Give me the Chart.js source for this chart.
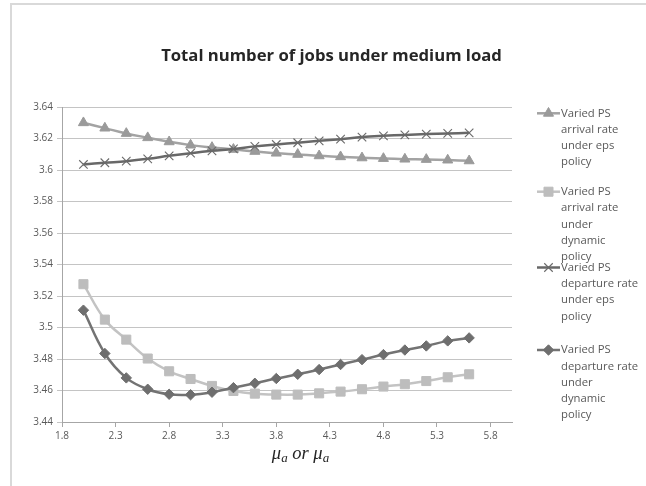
<!DOCTYPE html>
<html><head><meta charset="utf-8">
<script src="https://cdn.jsdelivr.net/npm/chart.js@4.4.0/dist/chart.umd.min.js"></script>
<style>html,body{margin:0;padding:0;background:#fff;} #wrap{width:646px;height:486px;position:relative;}</style>
</head><body><div id="wrap"><canvas id="c" width="646" height="486"></canvas></div>
<script>
const chartTitle = 'Total number of jobs under medium load';
const xValues = [2.0,2.2,2.4,2.6,2.8,3.0,3.2,3.4,3.6,3.8,4.0,4.2,4.4,4.6,4.8,5.0,5.2,5.4,5.6];
const arrivalEps = [3.6300,3.6266,3.6232,3.6205,3.6179,3.6158,3.6143,3.6131,3.6118,3.6107,3.6099,3.6090,3.6084,3.6077,3.6073,3.6069,3.6067,3.6063,3.6058];
const arrivalDynamic = [3.5275,3.5050,3.4923,3.4803,3.4722,3.4673,3.4629,3.4597,3.4580,3.4574,3.4574,3.4582,3.4593,3.4608,3.4625,3.4640,3.4660,3.4684,3.4703];
const departureEps = [3.6035,3.6046,3.6056,3.6071,3.6090,3.6107,3.6122,3.6134,3.6150,3.6162,3.6173,3.6185,3.6196,3.6209,3.6217,3.6223,3.6228,3.6232,3.6236];
const departureDynamic = [3.5110,3.4835,3.4680,3.4608,3.4576,3.4573,3.4589,3.4618,3.4646,3.4676,3.4703,3.4733,3.4765,3.4796,3.4828,3.4857,3.4883,3.4915,3.4934];
const seriesLabels = [
  'Varied PS arrival rate under eps policy',
  'Varied PS arrival rate under dynamic policy',
  'Varied PS departure rate under eps policy',
  'Varied PS departure rate under dynamic policy'
];
const legendLines = [
  ['Varied PS','arrival rate','under eps','policy'],
  ['Varied PS','arrival rate','under','dynamic','policy'],
  ['Varied PS','departure rate','under eps','policy'],
  ['Varied PS','departure rate','under','dynamic','policy']
];
const xTicks = [1.8,2.3,2.8,3.3,3.8,4.3,4.8,5.3,5.8];
const yTicks = [3.44,3.46,3.48,3.5,3.52,3.54,3.56,3.58,3.6,3.62,3.64];

const styles = [
  {line:'#a3a3a3', fill:'#9a9a9a', border:'#9a9a9a', style:'triangle', r:5.8, bw:1},
  {line:'#c3c3c3', fill:'#bdbdbd', border:'#bdbdbd', style:'rect', r:6.4, bw:1},
  {line:'#686868', fill:'rgba(0,0,0,0)', border:'#6a6a6a', style:'crossRot', r:6, bw:1.1},
  {line:'#737373', fill:'#6e6e6e', border:'#6e6e6e', style:'rectRot', r:5.2, bw:1}
];
const seriesData = [arrivalEps, arrivalDynamic, departureEps, departureDynamic];

const datasets = seriesData.map((arr, i) => ({
  label: seriesLabels[i],
  data: arr.map((y, k) => ({x: xValues[k], y: y})),
  borderColor: styles[i].line,
  backgroundColor: styles[i].fill,
  borderWidth: 2.5,
  tension: 0.4,
  pointStyle: styles[i].style,
  pointRadius: styles[i].r,
  pointBackgroundColor: styles[i].fill,
  pointBorderColor: styles[i].border,
  pointBorderWidth: styles[i].bw,
  order: 4 - i,
  clip: false
}));

const decor = {
  id: 'decor',
  beforeDraw(chart) {
    const ctx = chart.ctx;
    ctx.save();
    ctx.fillStyle = '#fff';
    ctx.fillRect(0, 0, chart.width, chart.height);
    ctx.strokeStyle = '#d9d9d9';
    ctx.lineWidth = 2;
    ctx.beginPath();
    ctx.moveTo(11, 486); ctx.lineTo(11, 4); ctx.lineTo(646, 4);
    ctx.stroke();
    ctx.restore();
  },
  afterDraw(chart) {
    const ctx = chart.ctx;
    ctx.save();
    // title
    let size = 16;
    ctx.font = 'bold ' + size + 'px "Open Sans"';
    const w = ctx.measureText(chartTitle).width;
    size = size * 341 / w;
    ctx.font = 'bold ' + size.toFixed(2) + 'px "Open Sans"';
    ctx.fillStyle = '#262626';
    ctx.textAlign = 'center';
    ctx.textBaseline = 'middle';
    ctx.fillText(chartTitle, 331.5, 56.5);

    // x axis title: mu_a or mu_a
    const big = 'italic 18.5px "Liberation Serif"';
    const small = 'italic 13px "Liberation Serif"';
    const parts = [['μ', big, 0], ['a', small, 3], [' or ', big, 0], ['μ', big, 0], ['a', small, 3]];
    let total = 0;
    parts.forEach(p => { ctx.font = p[1]; total += ctx.measureText(p[0]).width; });
    let x = 300.5 - total / 2;
    const base = 459;
    ctx.textAlign = 'left';
    ctx.textBaseline = 'alphabetic';
    ctx.fillStyle = '#262626';
    parts.forEach(p => { ctx.font = p[1]; ctx.fillText(p[0], x, base + p[2]); x += ctx.measureText(p[0]).width; });

    // legend
    const starts = [113.3, 191.7, 267.5, 350];
    const lh = 16.3;
    ctx.font = '11.3px "Open Sans"';
    ctx.textBaseline = 'middle';
    legendLines.forEach((lines, i) => {
      const y0 = starts[i];
      const st = styles[i];
      ctx.strokeStyle = st.line;
      ctx.lineWidth = 2.5;
      ctx.beginPath(); ctx.moveTo(537, y0); ctx.lineTo(560, y0); ctx.stroke();
      ctx.fillStyle = st.fill;
      ctx.strokeStyle = st.border;
      ctx.lineWidth = st.bw;
      Chart.helpers.drawPoint(ctx, {pointStyle: st.style, radius: st.r, rotation: 0, borderWidth: st.bw}, 548.5, y0);
      ctx.fillStyle = '#595959';
      lines.forEach((t, k) => ctx.fillText(t, 561, y0 + k * lh));
    });
    ctx.restore();
  }
};

new Chart(document.getElementById('c'), {
  type: 'line',
  data: { datasets },
  plugins: [decor],
  options: {
    responsive: false,
    animation: false,
    layout: { padding: { left: 0, top: 107, right: 134, bottom: 0 } },
    plugins: { legend: { display: false }, title: { display: false }, tooltip: { enabled: false } },
    scales: {
      x: {
        type: 'linear', min: 1.8, max: 6.0,
        afterBuildTicks: s => { s.ticks = xTicks.map(v => ({value: v})); },
        afterFit: s => { s.height = 64; },
        grid: { drawOnChartArea: false, drawTicks: true, tickLength: 5, color: '#a6a6a6' },
        border: { color: '#a6a6a6', width: 1 },
        ticks: { font: { family: 'Open Sans', size: 10 }, color: '#595959', padding: 3, maxRotation: 0, autoSkip: false,
          callback: v => String(parseFloat(v.toFixed(2))) }
      },
      y: {
        type: 'linear', min: 3.44, max: 3.64,
        afterBuildTicks: s => { s.ticks = yTicks.map(v => ({value: v})); },
        afterFit: s => { s.width = 62; },
        grid: { color: '#c4c4c4', tickLength: 5, drawTicks: true },
        border: { color: '#a6a6a6', width: 1 },
        ticks: { font: { family: 'Open Sans', size: 10 }, color: '#595959', padding: 4,
          callback: v => String(parseFloat(v.toFixed(2))) }
      }
    }
  }
});
</script></body></html>
